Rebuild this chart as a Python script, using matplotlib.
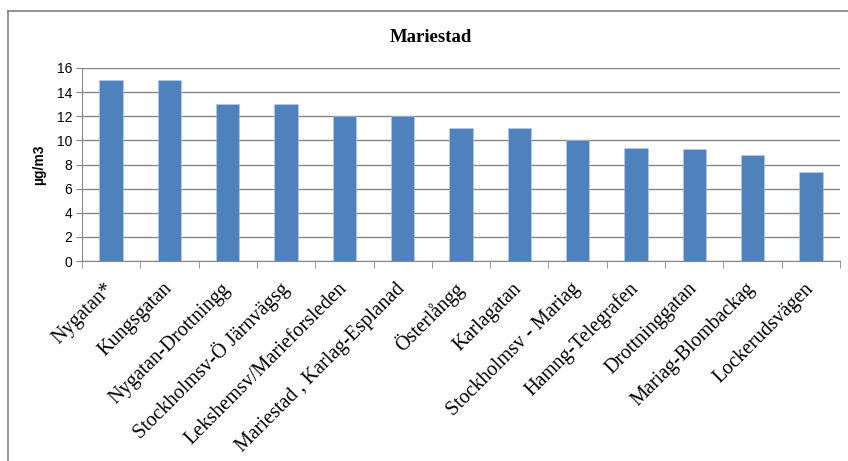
import numpy as np
import matplotlib.pyplot as plt
from matplotlib.lines import Line2D

stations = ["Nygatan*", "Kungsgatan", "Nygatan-Drottningg", "Stockholmsv-Ö Järnvägsg",
            "Lekshemsv/Marieforsleden", "Mariestad , Karlag-Esplanad", "Österlångg",
            "Karlagatan", "Stockholmsv - Mariag", "Hamng-Telegrafen", "Drottninggatan",
            "Mariag-Blombackag", "Lockerudsvägen"]
values = [15, 15, 13, 13, 12, 12, 11, 11, 10, 9.4, 9.3, 8.8, 7.4]
yticks = [0, 2, 4, 6, 8, 10, 12, 14, 16]

fig = plt.figure(figsize=(8.48, 4.61), dpi=100)
ax = fig.add_axes([0.0967, 0.4338, 0.8939, 0.4187])

x = np.arange(len(stations))
ax.bar(x, values, width=0.4, color="#4F81BD", edgecolor="#B9CDE5", linewidth=0.4, zorder=3)

ax.set_xlim(-0.5, len(stations) - 0.5)
ax.set_ylim(0, 16)
ax.set_yticks(yticks)
ax.set_yticklabels([str(v) for v in yticks], fontsize=10, family="Liberation Sans")
ax.yaxis.grid(True, color="#868686", linewidth=1, zorder=0)
ax.tick_params(axis="y", length=4, color="#868686", pad=3)

ax.set_xticks(x)
ax.set_xticklabels(stations, rotation=45, ha="right", va="center", rotation_mode="anchor",
                   fontsize=14.5, family="Liberation Serif")
ax.tick_params(axis="x", which="major", length=0, pad=18)
ax.set_xticks(np.arange(-0.5, len(stations)), minor=True)
ax.tick_params(axis="x", which="minor", length=5, color="#868686")

for s in ["top", "right"]:
    ax.spines[s].set_visible(False)
ax.spines["left"].set_color("#868686")
ax.spines["bottom"].set_color("#868686")

ax.set_ylabel("µg/m3", fontsize=10, fontweight="bold", family="Liberation Sans", labelpad=8)
fig.text(431 / 848, 1 - 38 / 461, "Mariestad", ha="center", va="center",
         fontsize=13.5, fontweight="bold", family="Liberation Serif")

# chart frame (top and left edges visible)
fig.add_artist(Line2D([8 / 848, 1], [1 - 11 / 461, 1 - 11 / 461], color="#808080", linewidth=1.2))
fig.add_artist(Line2D([8 / 848, 8 / 848], [0, 1 - 11 / 461], color="#808080", linewidth=1.2))

plt.savefig("out.png", dpi=100)
